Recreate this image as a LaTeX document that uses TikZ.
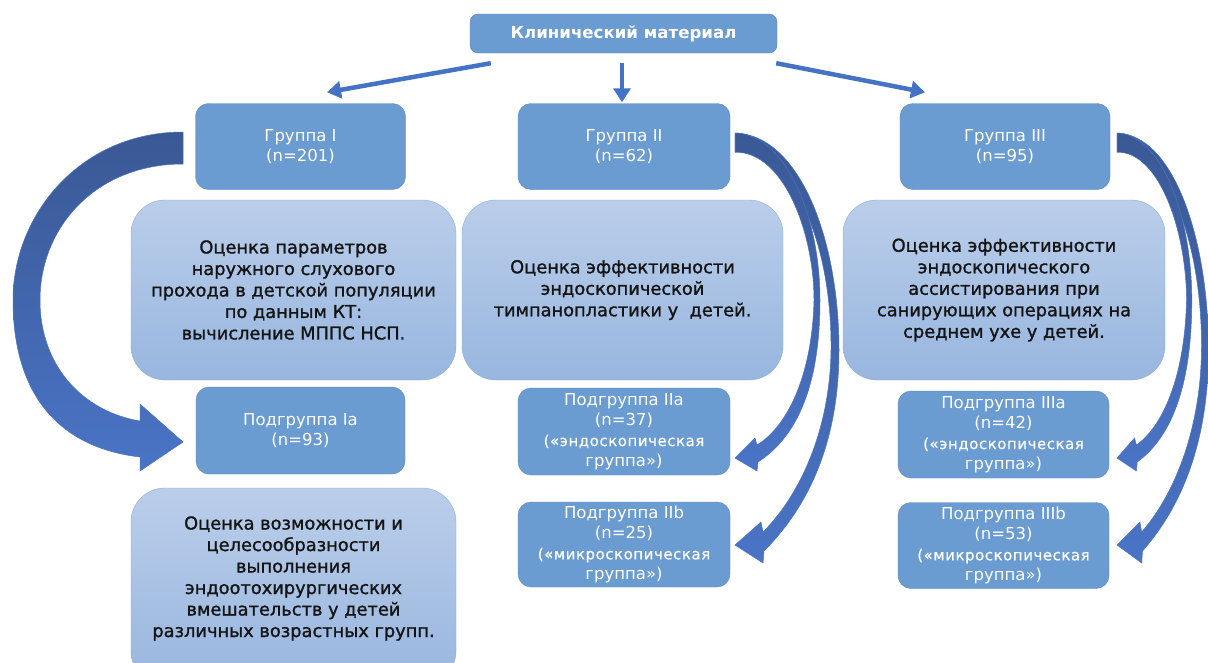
\documentclass[tikz,border=0pt]{standalone}
\usepackage{fontspec}
\setmainfont{DejaVu Sans}
\newfontfamily\heavyfont[FakeBold=1.2]{DejaVu Sans}
\newfontfamily\smallfam[LetterSpace=3.5,FakeBold=0.6]{DejaVu Sans}
\usetikzlibrary{arrows.meta}
\definecolor{boxblue}{HTML}{6A9BD1}
\definecolor{boxedge}{HTML}{5A87BF}
\definecolor{lighttop}{HTML}{BACEEA}
\definecolor{lightbot}{HTML}{98B6DF}
\definecolor{lightedge}{HTML}{8CAEDC}
\definecolor{arrowblue}{HTML}{4472C4}
\definecolor{cdark}{HTML}{3A5894}
\definecolor{clight}{HTML}{4A74C6}
\definecolor{textdark}{HTML}{141414}
\newcommand\smalltxt{\smallfam\fontsize{15}{20.5}\selectfont}
\begin{document}
\begin{tikzpicture}[x=1pt,y=-1pt,
  titlebox/.style={draw=boxedge, fill=boxblue, rounded corners=8pt, minimum width=307pt, minimum height=39pt, inner sep=0pt, text=white, font={\bfseries\fontsize{16.6}{20}\selectfont}},
  grp/.style={draw=boxedge, fill=boxblue, rounded corners=13pt, minimum width=210pt, minimum height=86pt, inner sep=0pt, align=center, text=white, font={\fontsize{16.5}{20.5}\selectfont}},
  lightbox/.style={draw=lightedge, top color=lighttop, bottom color=lightbot, rounded corners=34pt, minimum width=323pt, minimum height=180pt, inner sep=0pt, align=center, text=textdark, font={\heavyfont\fontsize{17.8}{21.5}\selectfont}},
  link/.style={draw=arrowblue, line width=4.5pt, -{Triangle[length=14pt,width=17pt]}},
  curvarrow/.style={top color=cdark, bottom color=clight, draw=clight, line width=0.5pt}
]
\useasboundingbox (0,0) rectangle (1208,662);
\fill[white] (0,0) rectangle (1208,662);

% top box
\node[titlebox] (top) at (623.5,33.5) {Клинический материал};

% groups
\node[grp] (g1) at (300.5,146.5) {Группа I\\(n=201)};
\node[grp, minimum width=212pt] (g2) at (624,146.5) {Группа II\\(n=62)};
\node[grp] (g3) at (1005,146.5) {Группа III\\(n=95)};

% straight arrows
\draw[link] ([shift={(21,10)}]top.south west) -- ([shift={(26.5,-11)}]g1.north);
\draw[link] ([shift={(-1.5,10)}]top.south) -- ([shift={(-2,-1)}]g2.north);
\draw[link] ([shift={(-1,10)}]top.south east) -- ([shift={(-80,-11)}]g3.north);

% light boxes
\node[lightbox, minimum width=325pt] (l1) at (293.5,290) {Оценка параметров\\наружного слухового\\прохода в детской популяции\\по данным КТ:\\вычисление МППС НСП.};
\node[lightbox, minimum width=321pt] (l2) at (622.5,290) {Оценка эффективности\\эндоскопической\\тимпанопластики у~ детей.};
\node[lightbox, minimum width=322pt] (l3) at (1004,290) {Оценка эффективности\\эндоскопического\\ассистирования при\\санирующих операциях на\\среднем ухе у детей.};

% subgroups
\node[grp, minimum width=209pt, minimum height=87pt] (s1) at (300.5,430.5) {Подгруппа Ia\\(n=93)};
\node[grp, minimum width=212pt, minimum height=87pt] (s2a) at (624,431.5) {Подгруппа IIa\\(n=37)\\\smalltxt(«эндоскопическая\\группа»)};
\node[grp, minimum width=212pt, minimum height=85pt] (s2b) at (624,544.5) {Подгруппа IIb\\(n=25)\\\smalltxt(«микроскопическая\\группа»)};
\node[grp, minimum width=211pt, minimum height=87pt] (s3a) at (1003.5,434.5) {Подгруппа IIIa\\(n=42)\\\smalltxt(«эндоскопическая\\группа»)};
\node[grp, minimum width=211pt, minimum height=86pt] (s3b) at (1003.5,545.5) {Подгруппа IIIb\\(n=53)\\\smalltxt(«микроскопическая\\группа»)};

% bottom light box (cut off at the bottom edge)
\begin{scope}
\clip (0,0) rectangle (1208,662);
\path[draw=lightedge, top color=lighttop, bottom color=lightbot, rounded corners=34pt] (131,488) rectangle (456,685);
\end{scope}
\node[align=center, text=textdark, font={\heavyfont\fontsize{17.8}{21.5}\selectfont}] (l4) at (293.5,578.5) {Оценка возможности и\\целесообразности\\выполнения\\эндоотохирургических\\вмешательств у детей\\различных возрастных групп.};

% curved arrow, group I -> subgroup Ia
\path[curvarrow] (183,132) .. controls (80,132) and (13,215) .. (13,300)
  .. controls (13,398) and (62,448) .. (140,457)
  -- (140,471) -- (183,442) -- (140,404) -- (140,421)
  .. controls (85,412) and (40,368) .. (40,300)
  .. controls (40,228) and (95,164) .. (183,164) -- cycle;

% curved arrows, group II (outer to IIb, inner to IIa)
\begin{scope}[shift={(735,0)}]
\path[curvarrow] (0,133) .. controls (65,135) and (104,240) .. (104,350)
  .. controls (104,440) and (75,505) .. (29,551)
  -- (28,563) -- (0,545) -- (26,522) -- (28,532)
  .. controls (65,495) and (95,430) .. (96,350)
  .. controls (97,250) and (62,152) .. (0,152) -- cycle;
\path[curvarrow] (0,133) .. controls (50,134) and (85,215) .. (85,300)
  .. controls (85,380) and (65,435) .. (23,462)
  -- (22,471) -- (0,458) -- (20,438) -- (22,445)
  .. controls (50,428) and (77,380) .. (79,300)
  .. controls (79,235) and (50,152) .. (0,152) -- cycle;
\end{scope}

% curved arrows, group III
\begin{scope}[shift={(1117,0)}, xscale=0.88]
\path[curvarrow] (0,133) .. controls (65,135) and (104,240) .. (104,350)
  .. controls (104,440) and (75,505) .. (29,551)
  -- (28,563) -- (0,545) -- (26,522) -- (28,532)
  .. controls (65,495) and (95,430) .. (96,350)
  .. controls (97,250) and (62,152) .. (0,152) -- cycle;
\path[curvarrow] (0,133) .. controls (50,134) and (85,215) .. (85,300)
  .. controls (85,380) and (65,435) .. (23,462)
  -- (22,471) -- (0,458) -- (20,438) -- (22,445)
  .. controls (50,428) and (77,380) .. (79,300)
  .. controls (79,235) and (50,152) .. (0,152) -- cycle;
\end{scope}
\end{tikzpicture}
\end{document}
